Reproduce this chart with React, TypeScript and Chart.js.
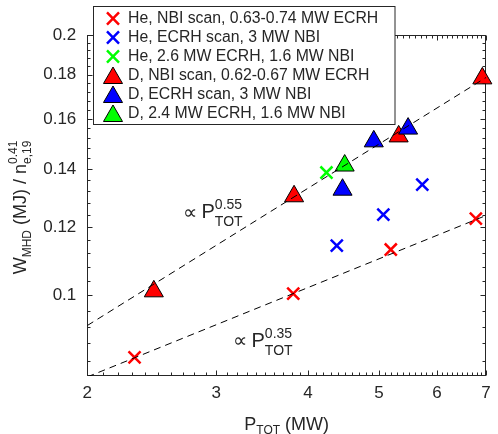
import React, { useEffect, useRef } from 'react';
import { Chart, registerables } from 'chart.js';

Chart.register(...registerables);

const FONT = '"Liberation Sans", Arial, Helvetica, sans-serif';
const TEXT = '#262626';
const RED = '#ff0000';
const BLUE = '#0000ff';
const GREEN = '#00ff00';

// ---- data (P_TOT in MW, W_MHD / n^0.41 in MJ) ----
const heNbiPower = [2.32, 3.82, 5.19, 6.78];
const heNbiW = [0.0848, 0.1005, 0.113, 0.1227];
const heEcrhPower = [4.38, 5.07, 5.73];
const heEcrhW = [0.1142, 0.124, 0.1343];
const heMixPower = [4.24];
const heMixW = [0.1387];
const dNbiPower = [2.465, 3.83, 5.32, 6.92];
const dNbiW = [0.1011, 0.1302, 0.1527, 0.1782];
const dEcrhPower = [4.46, 4.92, 5.48];
const dEcrhW = [0.1325, 0.1507, 0.1559];
const dMixPower = [4.49];
const dMixW = [0.1413];
// guide lines (end points)
const fitUpperPower = [2, 7];
const fitUpperW = [0.0923, 0.1786];
const fitLowerPower = [2, 7];
const fitLowerW = [0.0805, 0.1237];

const xTickValues = [2, 3, 4, 5, 6, 7];
const xTickLabels = ['2', '3', '4', '5', '6', '7'];
const yTickValues = [0.1, 0.12, 0.14, 0.16, 0.18, 0.2];
const yTickLabels = ['0.1', '0.12', '0.14', '0.16', '0.18', '0.2'];
const seriesLabels = [
  'He, NBI scan, 0.63-0.74 MW ECRH',
  'He, ECRH scan, 3 MW NBI',
  'He, 2.6 MW ECRH, 1.6 MW NBI',
  'D, NBI scan, 0.62-0.67 MW ECRH',
  'D, ECRH scan, 3 MW NBI',
  'D, 2.4 MW ECRH, 1.6 MW NBI',
];

const toPoints = (xs: number[], ys: number[]) => xs.map((x, i) => ({ x, y: ys[i] }));

const CROSS_R = 8.5;
const TRI_R = 11;

const markerSets = [
  { data: toPoints(heNbiPower, heNbiW), style: 'crossRot', color: RED },
  { data: toPoints(heEcrhPower, heEcrhW), style: 'crossRot', color: BLUE },
  { data: toPoints(heMixPower, heMixW), style: 'crossRot', color: GREEN },
  { data: toPoints(dNbiPower, dNbiW), style: 'triangle', color: RED },
  { data: toPoints(dEcrhPower, dEcrhW), style: 'triangle', color: BLUE },
  { data: toPoints(dMixPower, dMixW), style: 'triangle', color: GREEN },
];

type Part = { t: string; size: number; dy: number };
type Group = Part[];

function groupsWidth(ctx: CanvasRenderingContext2D, groups: Group[]) {
  let w = 0;
  for (const g of groups) {
    let m = 0;
    for (const p of g) {
      ctx.font = `${p.size}px ${FONT}`;
      m = Math.max(m, ctx.measureText(p.t).width);
    }
    w += m;
  }
  return w;
}

function drawGroups(ctx: CanvasRenderingContext2D, groups: Group[], x: number, y: number) {
  let cx = x;
  for (const g of groups) {
    let m = 0;
    for (const p of g) {
      ctx.font = `${p.size}px ${FONT}`;
      ctx.fillText(p.t, cx, y + p.dy);
      m = Math.max(m, ctx.measureText(p.t).width);
    }
    cx += m;
  }
}

function drawMarker(ctx: CanvasRenderingContext2D, style: string, color: string, x: number, y: number) {
  ctx.save();
  if (style === 'crossRot') {
    const o = CROSS_R * Math.SQRT1_2;
    ctx.strokeStyle = color;
    ctx.lineWidth = 2.5;
    ctx.beginPath();
    ctx.moveTo(x - o, y - o);
    ctx.lineTo(x + o, y + o);
    ctx.moveTo(x + o, y - o);
    ctx.lineTo(x - o, y + o);
    ctx.stroke();
  } else {
    ctx.fillStyle = color;
    ctx.strokeStyle = '#000';
    ctx.lineWidth = 1;
    ctx.beginPath();
    for (let k = 0; k < 3; k++) {
      const a = (k * 2 * Math.PI) / 3;
      const px = x + Math.sin(a) * TRI_R;
      const py = y - Math.cos(a) * TRI_R;
      if (k === 0) ctx.moveTo(px, py);
      else ctx.lineTo(px, py);
    }
    ctx.closePath();
    ctx.fill();
    ctx.stroke();
  }
  ctx.restore();
}

const framePlugin = {
  id: 'frameTicks',
  beforeDatasetsDraw(chart: any) {
    const { ctx, chartArea: a, scales } = chart;
    const xs = scales.x;
    const ys = scales.y;
    const L = Math.round(a.left) + 0.5;
    const R = Math.round(a.right) - 0.5;
    const T = Math.round(a.top) + 0.5;
    const B = Math.round(a.bottom) - 0.5;
    ctx.save();
    ctx.strokeStyle = TEXT;
    ctx.lineWidth = 1;
    ctx.strokeRect(L, T, R - L, B - T);
    const MAJ = 5;
    const MIN = 3;
    const xTick = (v: number, len: number) => {
      const px = Math.round(xs.getPixelForValue(v)) + 0.5;
      ctx.moveTo(px, B);
      ctx.lineTo(px, B - len);
      ctx.moveTo(px, T);
      ctx.lineTo(px, T + len);
    };
    const yTick = (v: number, len: number) => {
      const py = Math.round(ys.getPixelForValue(v)) + 0.5;
      ctx.moveTo(L, py);
      ctx.lineTo(L + len, py);
      ctx.moveTo(R, py);
      ctx.lineTo(R - len, py);
    };
    ctx.beginPath();
    xTickValues.forEach((v) => xTick(v, MAJ));
    for (let k = 21; k < 70; k++) {
      if (k % 10 !== 0) xTick(k / 10, MIN);
    }
    yTickValues.forEach((v) => yTick(v, MAJ));
    for (let k = 21; k <= 49; k++) {
      if (k % 5 !== 0) {
        const v = (k * 4) / 1000;
        if (v > ys.min) yTick(v, MIN);
      }
    }
    ctx.stroke();
    ctx.restore();
  },
  afterDraw(chart: any) {
    const { ctx, chartArea: a } = chart;
    ctx.save();
    ctx.fillStyle = TEXT;
    ctx.textBaseline = 'alphabetic';
    ctx.textAlign = 'left';

    // x axis title
    const xTitle: Group[] = [
      [{ t: 'P', size: 18, dy: 0 }],
      [{ t: 'TOT', size: 12, dy: 4 }],
      [{ t: ' (MW)', size: 18, dy: 0 }],
    ];
    const xw = groupsWidth(ctx, xTitle);
    drawGroups(ctx, xTitle, (a.left + a.right) / 2 - xw / 2, 430);

    // y axis title
    const yTitle: Group[] = [
      [{ t: 'W', size: 18, dy: 0 }],
      [{ t: 'MHD', size: 12, dy: 5 }],
      [{ t: ' (MJ) / n', size: 18, dy: 0 }],
      [
        { t: '0.41', size: 12, dy: -9 },
        { t: 'e,19', size: 12, dy: 5 },
      ],
    ];
    const yw = groupsWidth(ctx, yTitle);
    ctx.save();
    ctx.translate(26, (a.top + a.bottom) / 2 + 2);
    ctx.rotate(-Math.PI / 2);
    drawGroups(ctx, yTitle, -yw / 2, 0);
    ctx.restore();

    // proportionality annotations
    const annot = (x: number, y: number, sup: string) => {
      ctx.font = `20px ${FONT}`;
      ctx.textBaseline = 'middle';
      ctx.fillText('\u221D', x, y - 5);
      ctx.textBaseline = 'alphabetic';
      ctx.fillText('P', x + 18.5, y);
      const pw = ctx.measureText('P').width;
      ctx.font = `14px ${FONT}`;
      ctx.fillText(sup, x + 18.5 + pw, y - 9);
      ctx.fillText('TOT', x + 18.5 + pw, y + 8);
    };
    annot(183, 218.3, '0.55');
    annot(233, 346.5, '0.35');

    // legend
    const bx = 93.5;
    const by = 6.5;
    const bw = 301.5;
    const bh = 118;
    ctx.fillStyle = '#ffffff';
    ctx.fillRect(bx, by, bw, bh);
    ctx.strokeStyle = TEXT;
    ctx.lineWidth = 1;
    ctx.strokeRect(bx, by, bw, bh);
    ctx.font = `15.8px ${FONT}`;
    ctx.textBaseline = 'middle';
    seriesLabels.forEach((lab, i) => {
      const y = 18.5 + i * 19;
      const m = markerSets[i];
      drawMarker(ctx, m.style, m.color, 113, m.style === 'triangle' ? y + 2.5 : y);
      ctx.fillStyle = TEXT;
      ctx.fillText(lab, 128, y + 0.5);
    });
    ctx.restore();
  },
};

export default function App() {
  const canvasRef = useRef<HTMLCanvasElement | null>(null);

  useEffect(() => {
    document.body.style.margin = '0';
    const canvas = canvasRef.current;
    if (!canvas) return;

    const datasets: any[] = [
      {
        label: 'fit 0.55',
        data: toPoints(fitUpperPower, fitUpperW),
        showLine: true,
        borderColor: '#000',
        borderWidth: 1,
        borderDash: [7, 5],
        pointRadius: 0,
        order: 0,
      },
      {
        label: 'fit 0.35',
        data: toPoints(fitLowerPower, fitLowerW),
        showLine: true,
        borderColor: '#000',
        borderWidth: 1,
        borderDash: [7, 5],
        pointRadius: 0,
        order: 0,
      },
      ...markerSets.map((m, i) => ({
        label: seriesLabels[i],
        data: m.data,
        showLine: false,
        pointStyle: m.style,
        pointRadius: m.style === 'crossRot' ? CROSS_R : TRI_R,
        pointHoverRadius: m.style === 'crossRot' ? CROSS_R : TRI_R,
        borderColor: m.style === 'crossRot' ? m.color : '#000',
        backgroundColor: m.color,
        pointBorderWidth: m.style === 'crossRot' ? 2.5 : 1,
        borderWidth: m.style === 'crossRot' ? 2.5 : 1,
        order: 10 - i,
        clip: false,
      })),
    ];

    const chart = new Chart(canvas, {
      type: 'scatter',
      data: { datasets },
      options: {
        animation: false,
        responsive: false,
        events: [],
        layout: { padding: { top: 35, right: 5.2, left: 0, bottom: 0 } },
        plugins: {
          legend: { display: false },
          tooltip: { enabled: false },
          title: { display: false },
        },
        scales: {
          x: {
            type: 'logarithmic',
            position: 'bottom',
            min: 2,
            max: 7,
            bounds: 'data',
            afterBuildTicks: (s: any) => {
              s.ticks = xTickValues.map((v) => ({ value: v }));
            },
            afterFit: (s: any) => {
              s.height = 58;
            },
            ticks: {
              autoSkip: false,
              maxRotation: 0,
              padding: 7,
              color: TEXT,
              font: { family: FONT, size: 17 },
              callback: (_v: any, i: number) => xTickLabels[i],
            },
            grid: { display: false, drawTicks: false },
            border: { display: false },
          },
          y: {
            type: 'logarithmic',
            position: 'left',
            min: 0.0807,
            max: 0.2,
            bounds: 'data',
            afterBuildTicks: (s: any) => {
              s.ticks = yTickValues.map((v) => ({ value: v }));
            },
            afterFit: (s: any) => {
              s.width = 87.3;
            },
            ticks: {
              autoSkip: false,
              padding: 11,
              color: TEXT,
              font: { family: FONT, size: 17 },
              callback: (_v: any, i: number) => yTickLabels[i],
            },
            grid: { display: false, drawTicks: false },
            border: { display: false },
          },
        },
      } as any,
      plugins: [framePlugin],
    });

    return () => chart.destroy();
  }, []);

  return (
    <div style={{ width: 498, height: 434, position: 'relative' }}>
      <canvas ref={canvasRef} width={498} height={434} style={{ display: 'block', width: 498, height: 434 }} />
    </div>
  );
}
